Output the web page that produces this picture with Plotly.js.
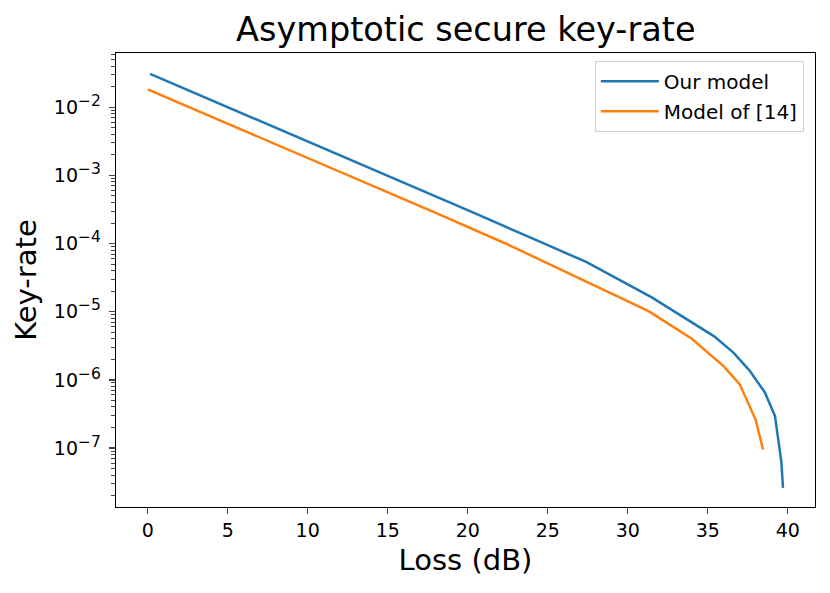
<!DOCTYPE html>
<html>
<head>
<meta charset="utf-8">
<script src="https://cdn.plot.ly/plotly-3.0.1.min.js"></script>
<style>html,body{margin:0;padding:0;background:#fff;}#chart{width:830px;height:593px;}</style>
</head>
<body>
<div id="chart"></div>
<script>
const ourLoss = [0.15, 5, 10, 14.5, 20.5, 24, 27.4, 31.5, 33.5, 35.4, 36.6, 37.6, 38.56, 39.2, 39.6, 39.7];
const ourRate = [0.0309, 0.01007, 0.00316, 0.001114, 2.74e-4, 1.20e-4, 5.37e-5, 1.62e-5, 8.3e-6, 4.35e-6, 2.51e-6, 1.38e-6, 6.6e-7, 2.95e-7, 6.2e-8, 2.6e-8];
const refLoss = [0, 4.5, 9, 13.5, 18, 22.4, 26.8, 31.3, 34, 36, 37, 38, 38.45];
const refRate = [0.0182, 0.00646, 0.00229, 8.13e-4, 2.82e-4, 9.93e-5, 3.24e-5, 1.02e-5, 4.02e-6, 1.58e-6, 8.6e-7, 2.57e-7, 9.5e-8];
const xTicks = [0, 5, 10, 15, 20, 25, 30, 35, 40];
const yTickExp = [-7, -6, -5, -4, -3, -2];

const yTickVals = yTickExp.map(e => Math.pow(10, e));
const yTickText = yTickExp.map(e => '10<sup><span style="font-size:15.5px">\u2212' + (-e) + '</span></sup>');
const minorVals = [];
for (let e = -8; e <= -1; e++) for (let k = 2; k <= 9; k++) minorVals.push(k * Math.pow(10, e));

const font = 'DejaVu Sans, sans-serif';
const data = [
  {x: ourLoss, y: ourRate, mode: 'lines', name: 'Our model', legendgroup: 'a',
   line: {color: '#1f77b4', width: 2.5}},
  {x: refLoss, y: refRate, mode: 'lines', name: 'Model of [14]', legendgroup: 'b',
   line: {color: '#ff7f0e', width: 2.5}}
];
const layout = {
  width: 830, height: 593,
  margin: {l: 116.3, r: 14.7, t: 52.5, b: 86.3},
  paper_bgcolor: '#fff', plot_bgcolor: '#fff',
  font: {family: font, color: '#000', size: 19},
  title: {text: 'Asymptotic secure key-rate', font: {family: font, size: 33.5, color: '#000'},
          x: 0.5612, xanchor: 'center', y: 0.951, yanchor: 'middle'},
  xaxis: {range: [-1.98, 41.7], tickvals: xTicks, ticks: 'outside', ticklen: 6, tickwidth: 1.3,
          showline: true, mirror: true, linecolor: '#000', linewidth: 1.3, showgrid: false, zeroline: false,
          automargin: false,
          tickfont: {family: font, size: 19},
          title: {text: 'Loss (dB)', font: {family: font, size: 29}, standoff: 9}},
  yaxis: {type: 'log', range: [-7.865, -1.205], tickvals: yTickVals, ticktext: yTickText,
          ticks: 'outside', ticklen: 6, tickwidth: 1.3, automargin: false, ticklabelstandoff: 4,
          showline: true, mirror: true, linecolor: '#000', linewidth: 1.3, showgrid: false, zeroline: false,
          tickfont: {family: font, size: 19},
          minor: {tickvals: minorVals, ticks: 'outside', ticklen: 3.5, tickwidth: 1, showgrid: false},
          title: {text: 'Key-rate', font: {family: font, size: 29}, standoff: 8}},
  showlegend: true,
  legend: {x: 0.984, xanchor: 'right', y: 0.983, yanchor: 'top', bgcolor: '#fff',
           bordercolor: '#d0d0d0', borderwidth: 1, font: {family: font, size: 20},
           tracegroupgap: 1, itemwidth: 58}
};
Plotly.newPlot('chart', data, layout, {displayModeBar: false, staticPlot: true});
</script>
</body>
</html>
